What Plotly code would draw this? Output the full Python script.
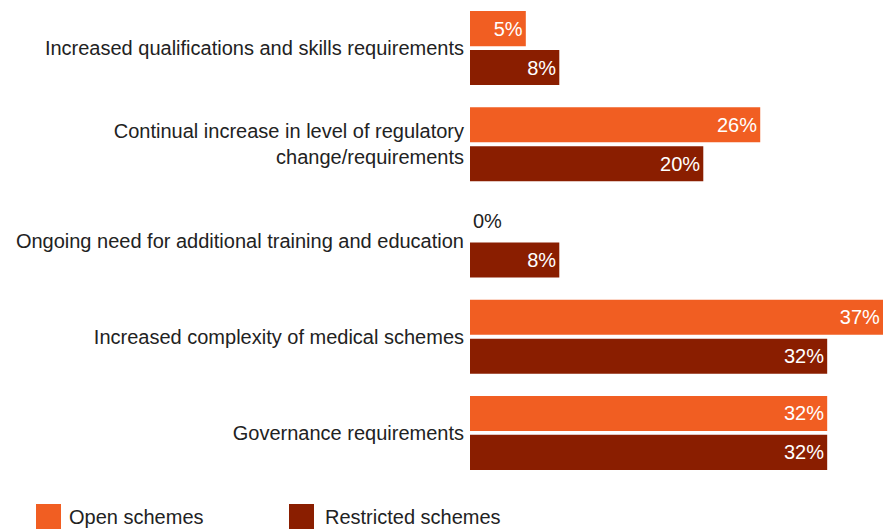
import plotly.graph_objects as go

categories = [
    "Increased qualifications and skills requirements",
    "Continual increase in level of regulatory<br>change/requirements",
    "Ongoing need for additional training and education",
    "Increased complexity of medical schemes",
    "Governance requirements",
]
open_values = [5, 26, 0, 37, 32]
restricted_values = [8, 20.9, 8, 32, 32]
open_labels = ["5%", "26%", "0%", "37%", "32%"]
restricted_labels = ["8%", "20%", "8%", "32%", "32%"]
series_names = ["Open schemes", "Restricted schemes"]

ORANGE = "#F15E22"
DARKRED = "#8A1E00"
FONT = "Liberation Sans, Arial, sans-serif"

fig = go.Figure()
for name, vals, labels, color in [
    (series_names[0], open_values, open_labels, ORANGE),
    (series_names[1], restricted_values, restricted_labels, DARKRED),
]:
    fig.add_trace(go.Bar(
        y=categories, x=vals, orientation="h", name=name,
        marker=dict(color=color, line=dict(width=0)),
        text=labels,
        textposition=["outside" if v == 0 else "inside" for v in vals],
        insidetextanchor="end",
        constraintext="none",
        textangle=0,
        insidetextfont=dict(color="#FFFFFF", size=20, family=FONT),
        outsidetextfont=dict(color="#222222", size=20, family=FONT),
        cliponaxis=False,
        showlegend=False,
        hoverinfo="skip",
    ))

fig.update_layout(
    width=890, height=529,
    margin=dict(l=470, r=7, t=0, b=48, autoexpand=False),
    barmode="group", bargap=0.19, bargroupgap=0.1,
    plot_bgcolor="white", paper_bgcolor="white",
    font=dict(family=FONT, size=20, color="#222222"),
    xaxis=dict(range=[0, 37], visible=False, showgrid=False, zeroline=False,
               fixedrange=True, automargin=False),
    yaxis=dict(autorange="reversed", showgrid=False, zeroline=False, showline=False,
               ticks="", automargin=False, ticklabelstandoff=5, fixedrange=True,
               tickfont=dict(size=20, color="#222222", family=FONT)),
)

# Legend drawn as shapes + annotations
plot_w = 890 - 470 - 7
plot_h = 529 - 48
def px_x(p):
    return (p - 470) / plot_w
def px_y(p):
    return (plot_h - p) / plot_h

legend_items = [(36, 67, ORANGE, series_names[0]), (289, 323, DARKRED, series_names[1])]
for sx, tx, color, name in legend_items:
    fig.add_shape(type="rect", xref="paper", yref="paper",
                  x0=px_x(sx), x1=px_x(sx + 25), y0=px_y(504), y1=px_y(529),
                  fillcolor=color, line=dict(width=0))
    fig.add_annotation(xref="paper", yref="paper", x=px_x(tx), y=px_y(517),
                       text=name, showarrow=False, xanchor="left", yanchor="middle",
                       font=dict(size=20, color="#222222", family=FONT))

fig.write_html("out.html", config={"displayModeBar": False},
               post_script="document.body.style.margin='0';document.body.style.overflow='hidden';")
